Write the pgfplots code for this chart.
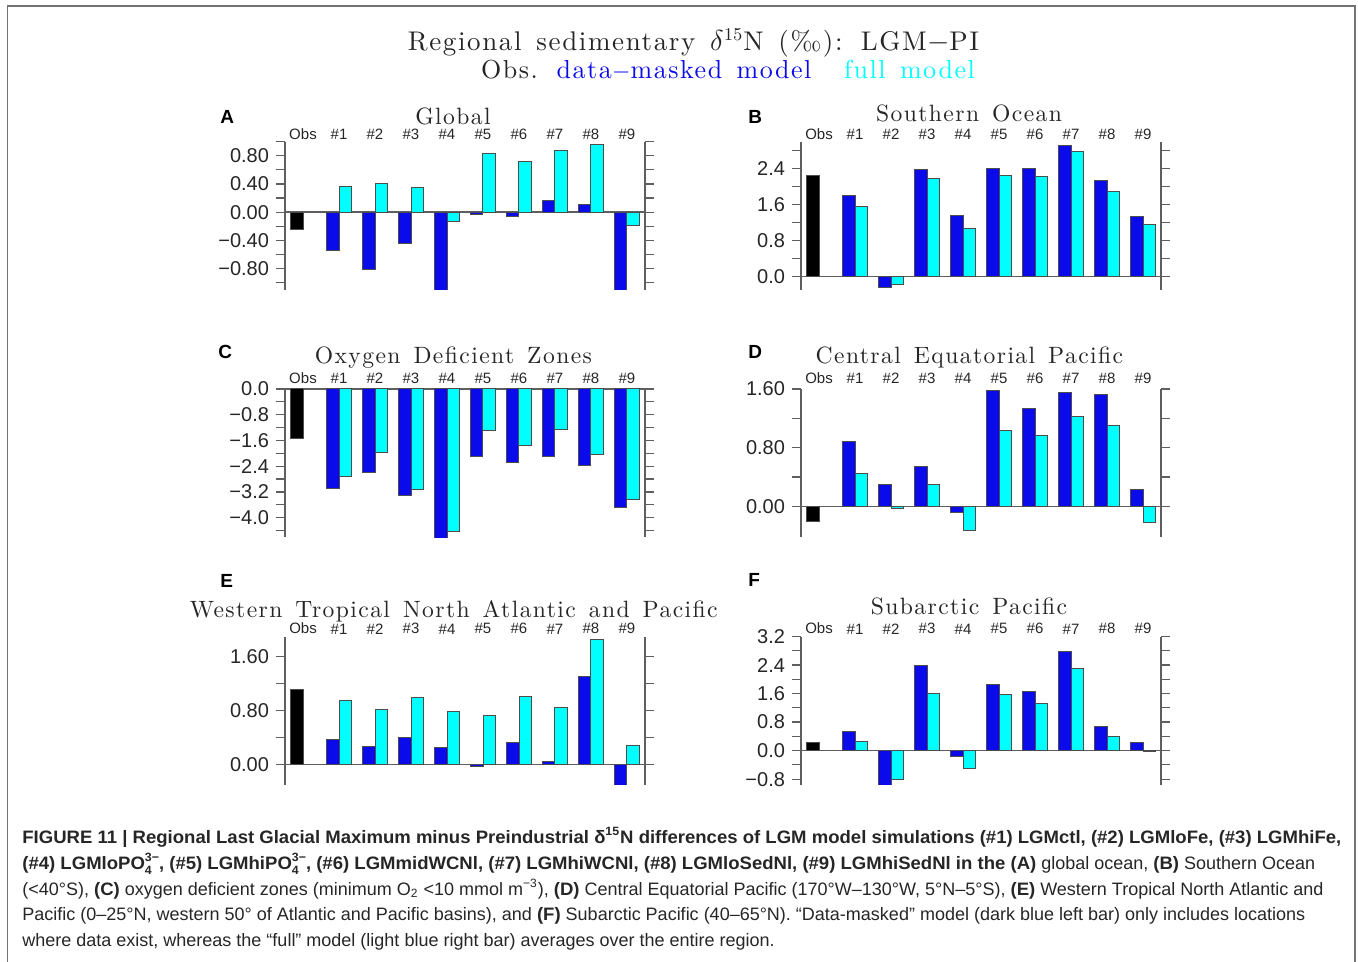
\documentclass[border=0pt]{standalone}
\usepackage{fontspec}
\setsansfont{Liberation Sans}
\newfontfamily\capfont[BoldFeatures={FakeStretch=1.03}]{Liberation Sans}
\newfontfamily\ttlfont[LetterSpace=6.0,WordSpace=1.4]{lmroman10-regular.otf}
\usepackage{pgfplots}
\pgfplotsset{compat=1.18}

\definecolor{mblue}{RGB}{10,10,235}
\definecolor{mcyan}{RGB}{0,255,255}
\definecolor{axgray}{RGB}{95,95,95}
\definecolor{framegray}{RGB}{115,115,115}

% superscript stacked over subscript (PO_4^{3-})
\newcommand\supsub[2]{\sbox0{\fontsize{6}{6}\selectfont #1}\sbox2{\fontsize{6}{6}\selectfont #2}%
  \rlap{\raisebox{0.85ex}{\usebox0}}\raisebox{-0.55ex}{\usebox2}\ifdim\wd0>\wd2\kern\dimexpr\wd0-\wd2\relax\fi}

\pgfplotsset{
  panel/.style={
    width=180pt, height=74pt, scale only axis,
    xmin=-0.5, xmax=9.5, enlargelimits=false,
    separate axis lines,
    x axis line style={draw=none},
    y axis line style={draw=axgray, line width=0.7pt},
    xtick={0,1,2,3,4,5,6,7,8,9},
    xticklabels={Obs,\#1,\#2,\#3,\#4,\#5,\#6,\#7,\#8,\#9},
    xticklabel pos=upper,
    x tick style={draw=none},
    xticklabel style={font=\sffamily\fontsize{7.5}{8}\selectfont, text=black!85, inner sep=1pt, yshift=-3pt},
    ytick pos=both, yticklabel pos=left,
    tick align=outside,
    major tick length=4.5pt, minor tick length=4.5pt,
    tick style={axgray, line width=0.6pt},
    yticklabel style={font=\sffamily\fontsize{10}{10}\selectfont, text=black!85},
    extra y ticks={0}, extra y tick labels={},
    extra y tick style={grid=major, major grid style={axgray, line width=0.7pt}},
    every axis plot/.append style={ybar, bar width=0.35, draw=black!70, line width=0.5pt},
  },
  lowlabels/.style={xticklabel style={yshift=-1.5pt}},
  obs/.style={fill=black, bar shift=-0.175},
  masked/.style={fill=mblue, bar shift=-0.175},
  full/.style={fill=mcyan, bar shift=0.175},
}

\begin{document}
\begin{tikzpicture}
\useasboundingbox (0,0) rectangle (679pt,-481pt);
\draw[framegray, line width=0.9pt] (3.75pt,-481pt) -- (3.75pt,-3pt) -- (677.5pt,-3pt) -- (677.5pt,-481pt);

% header
\node[anchor=base, text=black!85] at (346.75pt,-25.25pt)
  {\ttlfont\fontsize{13.5}{15}\selectfont Regional sedimentary $\delta^{15}$N (‰): LGM$-$PI};
\node[anchor=base, text=black!85] at (254.75pt,-39.5pt) {\ttlfont\fontsize{13}{15}\selectfont Obs.};
\node[anchor=base, text=mblue] at (342pt,-39.5pt) {\ttlfont\fontsize{13}{15}\selectfont data$-$masked model};
\node[anchor=base, text=mcyan] at (454.75pt,-39.5pt) {\ttlfont\fontsize{13}{15}\selectfont full model};

% panel letters and titles
\begin{scope}[every node/.style={anchor=base west, inner sep=0pt, font=\sffamily\bfseries\fontsize{9.5}{10}\selectfont}]
\node at (110pt,-61.7pt) {A};
\node at (374pt,-61.7pt) {B};
\node at (109pt,-179.2pt) {C};
\node at (374pt,-179.2pt) {D};
\node at (110pt,-293.5pt) {E};
\node at (374pt,-293.4pt) {F};
\end{scope}
\begin{scope}[every node/.style={anchor=base, text=black!85, font=\ttlfont\fontsize{11.8}{14}\selectfont}]
\node at (226.5pt,-62.2pt) {Global};
\node at (484.5pt,-60.9pt) {Southern Ocean};
\node at (226.7pt,-182pt) {Oxygen Deficient Zones};
\node at (484.7pt,-182pt) {Central Equatorial Pacific};
\node at (226.9pt,-308.6pt) {Western Tropical North Atlantic and Pacific};
\node at (484.5pt,-307.2pt) {Subarctic Pacific};
\end{scope}

% A: Global
\begin{axis}[panel, lowlabels, at={(142.5pt,-70.85pt)}, anchor=north west,
  ymin=-1.1, ymax=1.0,
  ytick={-0.8,-0.4,0,0.4,0.8}, yticklabels={−0.80,−0.40,0.00,0.40,0.80},
  minor ytick={-1.0,-0.6,-0.2,0.2,0.6,1.0}]
\addplot[obs] coordinates {(0,-0.25)};
\addplot[masked] coordinates {(1,-0.54) (2,-0.81) (3,-0.45) (4,-1.2) (5,-0.03) (6,-0.06) (7,0.17) (8,0.11) (9,-1.2)};
\addplot[full] coordinates {(1,0.37) (2,0.41) (3,0.35) (4,-0.13) (5,0.83) (6,0.72) (7,0.875) (8,0.96) (9,-0.19)};
\end{axis}

% B: Southern Ocean
\begin{axis}[panel, lowlabels, at={(400.5pt,-70.85pt)}, anchor=north west,
  ymin=-0.3, ymax=3.0,
  ytick={0,0.8,1.6,2.4}, yticklabels={0.0,0.8,1.6,2.4},
  minor ytick={0.4,1.2,2.0,2.8}]
\addplot[obs] coordinates {(0,2.24)};
\addplot[masked] coordinates {(1,1.79) (2,-0.25) (3,2.39) (4,1.35) (5,2.41) (6,2.41) (7,2.91) (8,2.13) (9,1.33)};
\addplot[full] coordinates {(1,1.56) (2,-0.19) (3,2.19) (4,1.07) (5,2.24) (6,2.23) (7,2.78) (8,1.89) (9,1.16)};
\end{axis}

% C: Oxygen Deficient Zones
\begin{axis}[panel, at={(142.5pt,-194.5pt)}, anchor=north west,
  ymin=-4.6, ymax=0,
  ytick={-4.0,-3.2,-2.4,-1.6,-0.8,0}, yticklabels={−4.0,−3.2,−2.4,−1.6,−0.8,0.0},
  minor ytick={-4.4,-3.6,-2.8,-2.0,-1.2,-0.4}]
\addplot[obs] coordinates {(0,-1.53)};
\addplot[masked] coordinates {(1,-3.08) (2,-2.58) (3,-3.31) (4,-4.7) (5,-2.09) (6,-2.28) (7,-2.11) (8,-2.39) (9,-3.69)};
\addplot[full] coordinates {(1,-2.73) (2,-1.97) (3,-3.11) (4,-4.43) (5,-1.28) (6,-1.76) (7,-1.26) (8,-2.04) (9,-3.43)};
\end{axis}

% D: Central Equatorial Pacific
\begin{axis}[panel, at={(400.5pt,-194.5pt)}, anchor=north west,
  ymin=-0.42, ymax=1.6,
  ytick={0,0.8,1.6}, yticklabels={0.00,0.80,1.60},
  minor ytick={0.4,1.2}]
\addplot[obs] coordinates {(0,-0.21)};
\addplot[masked] coordinates {(1,0.89) (2,0.30) (3,0.54) (4,-0.09) (5,1.58) (6,1.33) (7,1.555) (8,1.53) (9,0.23)};
\addplot[full] coordinates {(1,0.44) (2,-0.03) (3,0.29) (4,-0.33) (5,1.04) (6,0.96) (7,1.22) (8,1.10) (9,-0.22)};
\end{axis}

% E: Western Tropical North Atlantic and Pacific
\begin{axis}[panel, lowlabels, at={(142.5pt,-318.25pt)}, anchor=north west,
  ymin=-0.3, ymax=1.9,
  ytick={0,0.8,1.6}, yticklabels={0.00,0.80,1.60},
  minor ytick={0.4,1.2}]
\addplot[obs] coordinates {(0,1.11)};
\addplot[masked] coordinates {(1,0.37) (2,0.27) (3,0.40) (4,0.25) (5,-0.025) (6,0.32) (7,0.045) (8,1.31) (9,-0.35)};
\addplot[full] coordinates {(1,0.95) (2,0.82) (3,1.00) (4,0.79) (5,0.73) (6,1.005) (7,0.84) (8,1.85) (9,0.28)};
\end{axis}

% F: Subarctic Pacific
\begin{axis}[panel, lowlabels, at={(400.5pt,-318.25pt)}, anchor=north west,
  ymin=-0.95, ymax=3.2,
  ytick={-0.8,0,0.8,1.6,2.4,3.2}, yticklabels={−0.8,0.0,0.8,1.6,2.4,3.2},
  minor ytick={-0.4,0.4,1.2,2.0,2.8}]
\addplot[obs] coordinates {(0,0.235)};
\addplot[masked] coordinates {(1,0.54) (2,-1.0) (3,2.39) (4,-0.16) (5,1.86) (6,1.66) (7,2.78) (8,0.67) (9,0.23)};
\addplot[full] coordinates {(1,0.26) (2,-0.81) (3,1.59) (4,-0.51) (5,1.56) (6,1.32) (7,2.31) (8,0.40) (9,-0.02)};
\end{axis}

% caption
\begin{scope}[every node/.style={anchor=base west, inner sep=0pt, text=black!85, font=\capfont\fontsize{9}{10}\selectfont}]
\node at (11pt,-421.75pt) {\bfseries FIGURE 11 | Regional Last Glacial Maximum minus Preindustrial δ\textsuperscript{15}N differences of LGM model simulations (\#1) LGMctl, (\#2) LGMloFe, (\#3) LGMhiFe,};
\node at (11pt,-434.65pt) {{\bfseries (\#4) LGMloPO\supsub{3−}{4}, (\#5) LGMhiPO\supsub{3−}{4}, (\#6) LGMmidWCNl, (\#7) LGMhiWCNl, (\#8) LGMloSedNl, (\#9) LGMhiSedNl in the (A)} global ocean, {\bfseries (B)} Southern Ocean};
\node at (11pt,-447.5pt) {(<40°S), {\bfseries (C)} oxygen deficient zones (minimum O\textsubscript{2} <10 mmol m\textsuperscript{−3}), {\bfseries (D)} Central Equatorial Pacific (170°W–130°W, 5°N–5°S), {\bfseries (E)} Western Tropical North Atlantic and};
\node at (11pt,-460.4pt) {Pacific (0–25°N, western 50° of Atlantic and Pacific basins), and {\bfseries (F)} Subarctic Pacific (40–65°N). “Data-masked” model (dark blue left bar) only includes locations};
\node at (11pt,-473.3pt) {where data exist, whereas the “full” model (light blue right bar) averages over the entire region.};
\end{scope}
\end{tikzpicture}
\end{document}
